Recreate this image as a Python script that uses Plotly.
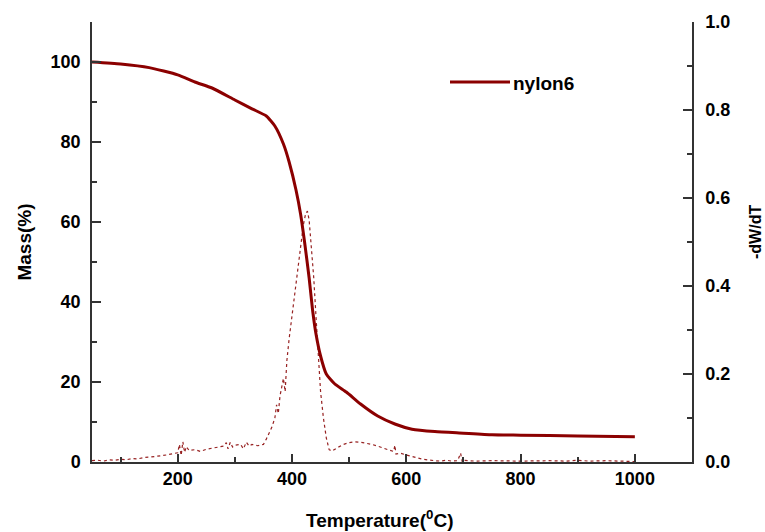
import plotly.graph_objects as go

# TGA mass curve (nylon6)
tga_temp = [50, 100, 150, 200, 230, 260, 300, 330, 355, 370, 385, 395, 407, 415, 422, 430,
            436, 442, 450, 460, 475, 495, 520, 550, 580, 610, 650, 700, 750, 800, 900, 1000]
tga_mass = [100, 99.5, 98.6, 96.8, 95, 93.5, 90.5, 88.3, 86.5, 84, 79.5, 75, 68, 62, 55, 46,
            38, 32, 26.5, 22, 19.5, 17.5, 14.5, 11.5, 9.5, 8.2, 7.6, 7.2, 6.8, 6.7, 6.5, 6.3]

# DTG curve (-dW/dT)
dtg_temp = [50, 60, 70, 80, 90, 100, 110, 120, 130, 140, 150, 160, 170, 180, 190, 200, 203, 206,
            209, 212, 215, 220, 230, 240, 250, 260, 270, 280, 285, 288, 292, 296, 300, 310, 315,
            320, 325, 330, 340, 350, 355, 360, 365, 370, 373, 376, 379, 382, 385, 388, 391, 395,
            400, 405, 410, 415, 420, 424, 427, 430, 434, 438, 442, 446, 450, 455, 460, 465, 470,
            480, 490, 500, 510, 520, 530, 540, 550, 560, 570, 578, 580, 582, 590, 600, 610, 620,
            630, 640, 650, 660, 670, 680, 690, 695, 698, 700, 720, 750, 800, 850, 880, 900, 920,
            950, 1000]
dtg_val = [0.003, 0.004, 0.002, 0.005, 0.004, 0.006, 0.005, 0.008, 0.007, 0.010, 0.011, 0.012,
           0.014, 0.016, 0.018, 0.021, 0.040, 0.015, 0.046, 0.022, 0.035, 0.026, 0.028, 0.024,
           0.029, 0.031, 0.033, 0.036, 0.044, 0.030, 0.045, 0.034, 0.038, 0.040, 0.030, 0.045,
           0.036, 0.040, 0.037, 0.040, 0.052, 0.065, 0.08, 0.10, 0.13, 0.11, 0.15, 0.17, 0.19,
           0.16, 0.23, 0.28, 0.33, 0.38, 0.43, 0.49, 0.54, 0.565, 0.57, 0.55, 0.49, 0.42, 0.33,
           0.24, 0.16, 0.10, 0.055, 0.028, 0.025, 0.033, 0.040, 0.044, 0.046, 0.045, 0.043,
           0.040, 0.036, 0.031, 0.027, 0.024, 0.038, 0.018, 0.020, 0.016, 0.012, 0.009, 0.006,
           0.004, 0.003, 0.002, 0.004, 0.002, 0.003, 0.02, 0.0, 0.004, 0.002, 0.003, 0.002,
           0.003, 0.002, 0.004, 0.002, 0.003, 0.001]

series_name = "nylon6"
x_title = "Temperature(<sup>0</sup>C)"
y_title = "Mass(%)"
y2_title = "-dW/dT"

RED = "#8b0000"
AX = "#333333"
FONT = "Liberation Sans, Arial, sans-serif"

fig = go.Figure()
fig.add_trace(go.Scatter(x=dtg_temp, y=dtg_val, mode="lines", yaxis="y2",
                         line=dict(color="rgba(140,10,10,0.9)", width=1.2, dash="dot"),
                         showlegend=False))
fig.add_trace(go.Scatter(x=tga_temp, y=tga_mass, mode="lines", name=series_name,
                         line=dict(color=RED, width=3, shape="spline", smoothing=0.5),
                         showlegend=False))

axis_common = dict(showline=True, linecolor=AX, linewidth=1.5, ticks="inside",
                   tickcolor=AX, tickwidth=1.5, showgrid=False, zeroline=False,
                   tickfont=dict(family=FONT, size=18, color="black", weight="bold"))

fig.update_layout(
    width=765, height=532,
    margin=dict(l=92, r=73, t=22, b=70),
    paper_bgcolor="white", plot_bgcolor="white",
    xaxis=dict(range=[50, 1100], tick0=0, dtick=200, ticklen=8,
               minor=dict(dtick=100, tick0=0, ticklen=5, ticks="inside", tickcolor=AX, tickwidth=1.5),
               **axis_common),
    yaxis=dict(range=[0, 110], tick0=0, dtick=20, ticklen=9,
               minor=dict(dtick=10, tick0=0, ticklen=5, ticks="inside", tickcolor=AX, tickwidth=1.5),
               title=dict(text=y_title, standoff=14,
                          font=dict(family=FONT, size=19, color="black", weight="bold")),
               ticklabelstandoff=6,
               **axis_common),
    yaxis2=dict(range=[0, 1.0], tick0=0, dtick=0.2, tickformat=".1f", ticklen=9,
                overlaying="y", side="right",
                minor=dict(dtick=0.1, tick0=0, ticklen=5, ticks="inside", tickcolor=AX, tickwidth=1.5),
                ticklabelstandoff=8,
                **axis_common),
    annotations=[
        dict(text=x_title, xref="paper", yref="paper", x=(379 - 92) / 600, y=(462 - 519) / 440,
             xanchor="center", yanchor="middle", showarrow=False,
             font=dict(family=FONT, size=19, color="black", weight="bold")),
        dict(text=y2_title, xref="paper", yref="paper", x=(755 - 92) / 600, y=(462 - 232) / 440,
             xanchor="center", yanchor="middle", showarrow=False, textangle=-90,
             font=dict(family=FONT, size=16, color="black", weight="bold")),
        dict(text=series_name, xref="paper", yref="paper", x=(511 - 92) / 600, y=(462 - 83) / 440,
             xanchor="left", yanchor="middle", showarrow=False,
             font=dict(family=FONT, size=19, color="black", weight="bold")),
    ],
    shapes=[
        dict(type="line", xref="paper", yref="paper", x0=(450 - 92) / 600, x1=(510 - 92) / 600,
             y0=(462 - 82) / 440, y1=(462 - 82) / 440, line=dict(color=RED, width=3)),
    ],
)

fig.write_html("out.html")
